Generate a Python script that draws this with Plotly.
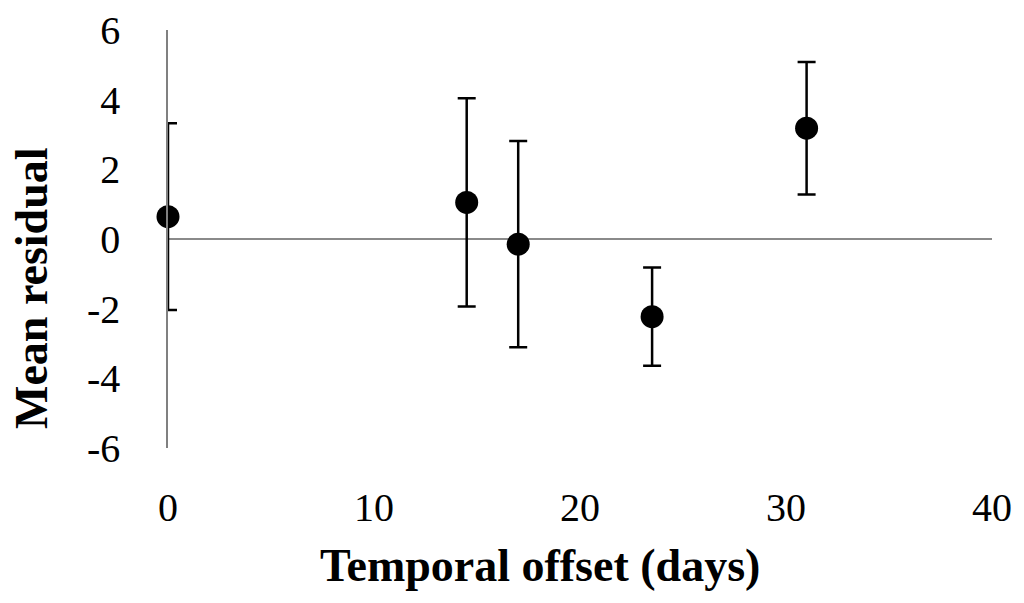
import plotly.graph_objects as go

offset_days = [0, 14.5, 17, 23.5, 31]
mean_residual = [0.64, 1.05, -0.15, -2.23, 3.18]
error = [2.68, 2.99, 2.96, 1.41, 1.90]
x_ticks = [0, 10, 20, 30, 40]
y_ticks = [-6, -4, -2, 0, 2, 4, 6]

FONT = "Liberation Serif, Times New Roman, serif"

W, H = 1024, 603
L, R, T, B = 168, 32, 30, 155

fig = go.Figure()
# error bars (clipped to plot area like the original)
fig.add_trace(go.Scatter(
    x=offset_days, y=mean_residual, mode="markers",
    marker=dict(size=1, color="rgba(0,0,0,0)"),
    error_y=dict(type="data", array=error, visible=True,
                 color="black", thickness=2.5, width=9),
    cliponaxis=True, showlegend=False, hoverinfo="skip"))
# markers (not clipped)
fig.add_trace(go.Scatter(
    x=offset_days, y=mean_residual, mode="markers",
    marker=dict(size=23, color="black"),
    cliponaxis=False, showlegend=False))

pw = W - L - R
ph = H - T - B


def to_paper(px, py):
    return (px - L) / pw, (H - B - py) / ph


ax, ay = to_paper(540, 565)
bx, by = to_paper(31, 288)

fig.update_layout(
    width=W, height=H,
    margin=dict(l=L, r=R, t=T, b=B, autoexpand=False),
    paper_bgcolor="white", plot_bgcolor="white",
    font=dict(family=FONT, color="black"),
    xaxis=dict(range=[0, 40], tickvals=x_ticks, ticktext=[str(v) for v in x_ticks],
               showgrid=False, zeroline=False, showline=False, ticks="", automargin=False,
               tickfont=dict(size=40, family=FONT), ticklabelstandoff=32),
    yaxis=dict(range=[-6, 6], tickvals=y_ticks, ticktext=[str(v) for v in y_ticks],
               showgrid=False, zeroline=True, zerolinecolor="#8a8a8a", zerolinewidth=2,
               showline=True, linecolor="#808080", linewidth=1.5, ticks="", automargin=False,
               tickfont=dict(size=40, family=FONT), ticklabelstandoff=38),
    annotations=[
        dict(text="<b>Temporal offset (days)</b>", x=ax, y=ay, xref="paper", yref="paper",
             xanchor="center", yanchor="middle", showarrow=False,
             font=dict(size=46, family=FONT, color="black")),
        dict(text="<b>Mean residual</b>", x=bx, y=by, xref="paper", yref="paper",
             xanchor="center", yanchor="middle", textangle=-90, showarrow=False,
             font=dict(size=46, family=FONT, color="black")),
    ],
)

fig.write_html("out.html", config={"displayModeBar": False},
               post_script="document.body.style.margin='0';")
